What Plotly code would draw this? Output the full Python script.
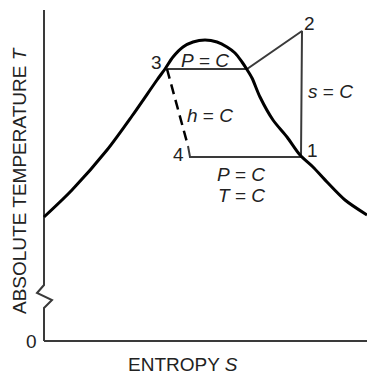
import plotly.graph_objects as go

# Saturation dome (entropy S, absolute temperature T), arbitrary units
dome_s = [0, 28, 63, 88, 113, 121, 129, 139, 149, 161, 173, 183, 191, 198, 202, 208, 216, 229, 243, 256, 269, 283, 301, 323]
dome_t = [124, 151, 191, 225, 261, 272, 284, 294, 299, 301, 299, 294, 288, 279, 273, 263, 244, 221, 204, 186, 174, 159, 141, 126]

# Cycle states
state_names = ["1", "2", "3", "4"]
state_s = [257, 258, 123, 146]
state_t = [184, 310, 272, 184]
sat_vapor_s = 203   # dome crossing at T3
throttle_end = [144, 195]  # end of dashed h = C line

# Axis break (zigzag) on temperature axis
axis_top = 331
zig_s = [0, -7, 8, 0]
zig_t = [56, 48, 41, 33]
s_max = 323

FONT = "Liberation Sans, Arial, sans-serif"
TXT = "#222222"
LINE = "#3a3a3a"
FS = 19

fig = go.Figure()

# Temperature axis with break
fig.add_trace(go.Scatter(x=[0] + zig_s + [0], y=[axis_top] + zig_t + [0],
                         mode="lines", line=dict(color=LINE, width=2),
                         hoverinfo="skip"))
# Entropy axis
fig.add_trace(go.Scatter(x=[0, s_max], y=[0, 0], mode="lines",
                         line=dict(color=LINE, width=2.2), hoverinfo="skip"))

# Cycle solid lines: 4 -> 1 -> 2 -> dome -> 3
cyc_s = [throttle_end[0], state_s[3], state_s[0], state_s[1], sat_vapor_s, state_s[2]]
cyc_t = [throttle_end[1], state_t[3], state_t[0], state_t[1], state_t[2], state_t[2]]
fig.add_trace(go.Scatter(x=cyc_s, y=cyc_t, mode="lines",
                         line=dict(color=LINE, width=2), hoverinfo="skip"))

# Throttling (h = C) dashed line 3 -> 4
fig.add_trace(go.Scatter(x=[state_s[2], throttle_end[0]], y=[state_t[2], throttle_end[1]],
                         mode="lines", line=dict(color="black", width=2.5, dash="10px,6px"),
                         hoverinfo="skip"))

# Dome
fig.add_trace(go.Scatter(x=dome_s, y=dome_t, mode="lines",
                         line=dict(color="black", width=3, shape="spline", smoothing=0.8),
                         hoverinfo="skip"))

# Labels
labels = [
    ("3", 112, 279), ("2", 265, 318), ("1", 268, 191), ("4", 134, 187),
    ("<i>P</i> = <i>C</i>", 161, 281),
    ("<i>h</i> = <i>C</i>", 166, 226),
    ("<i>s</i> = <i>C</i>", 286, 250),
    ("<i>P</i> = <i>C</i>", 197, 167),
    ("<i>T</i> = <i>C</i>", 197, 146),
    ("0", -13, 0),
]
for txt, sx, ty in labels:
    fig.add_annotation(x=sx, y=ty, xref="x", yref="y", text=txt, showarrow=False,
                       font=dict(family=FONT, size=FS, color=TXT),
                       xanchor="center", yanchor="middle")

fig.add_annotation(x=139, y=-23, xref="x", yref="y", text="ENTROPY <i>S</i>",
                   showarrow=False, font=dict(family=FONT, size=FS, color=TXT),
                   xanchor="center", yanchor="middle")
fig.add_annotation(x=-25, y=160, xref="x", yref="y", text="ABSOLUTE TEMPERATURE <i>T</i>",
                   showarrow=False, textangle=-90, font=dict(family=FONT, size=FS, color=TXT),
                   xanchor="center", yanchor="middle")

fig.update_layout(
    width=367, height=377,
    margin=dict(l=0, r=0, t=0, b=0),
    paper_bgcolor="white", plot_bgcolor="white",
    showlegend=False,
    xaxis=dict(range=[-44, 323], visible=False, fixedrange=True),
    yaxis=dict(range=[-36, 341], visible=False, fixedrange=True),
)

fig.write_html(
    "out.html",
    config={"displayModeBar": False},
    post_script="document.body.style.margin='0';document.body.style.overflow='hidden';",
)
